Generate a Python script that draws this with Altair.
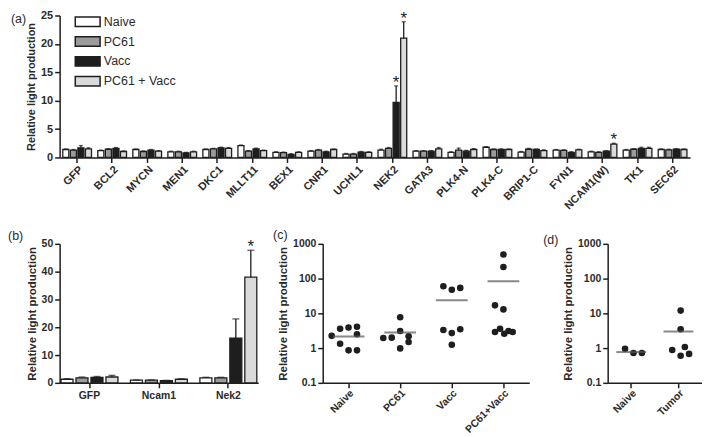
import altair as alt
import pandas as pd

FONT = "Liberation Sans"
INK = "#1e1e1e"
TXT = "#2a2a2a"

groups = ["Naive", "PC61", "Vacc", "PC61 + Vacc"]
group_fill = ["#ffffff", "#9b9b9b", "#1e1e1e", "#dadada"]
panel_labels = ["(a)", "(b)", "(c)", "(d)"]

# ---------------- panel (a) ----------------
genes_a = ["GFP", "BCL2", "MYCN", "MEN1", "DKC1", "MLLT11", "BEX1", "CNR1", "UCHL1",
           "NEK2", "GATA3", "PLK4-N", "PLK4-C", "BRIP1-C", "FYN1", "NCAM1(W)", "TK1", "SEC62"]
naive_a = [1.4, 1.2, 1.4, 1.0, 1.4, 2.1, 0.9, 1.1, 0.6, 1.3, 1.1, 0.9, 1.8, 0.95, 1.3, 1.0, 1.3, 1.4]
pc61_a = [1.3, 1.45, 1.05, 1.0, 1.5, 1.1, 0.85, 1.3, 0.6, 1.6, 1.1, 1.3, 1.4, 1.45, 1.25, 0.9, 1.45, 1.35]
vacc_a = [1.7, 1.6, 1.3, 0.8, 1.7, 1.5, 0.55, 1.0, 0.95, 9.7, 1.1, 1.1, 1.4, 1.4, 0.9, 1.1, 1.6, 1.45]
combo_a = [1.5, 1.05, 1.1, 1.0, 1.6, 1.2, 0.9, 1.4, 0.9, 21.0, 1.5, 1.4, 1.4, 1.2, 1.35, 2.35, 1.6, 1.4]
naive_err_a = [0.1, 0.1, 0.1, 0.1, 0.1, 0.1, 0.1, 0.1, 0.1, 0.15, 0.1, 0.1, 0.1, 0.1, 0.1, 0.1, 0.1, 0.1]
pc61_err_a = [0.1, 0.1, 0.1, 0.1, 0.1, 0.1, 0.1, 0.1, 0.1, 0.15, 0.1, 0.35, 0.1, 0.15, 0.1, 0.1, 0.1, 0.1]
vacc_err_a = [0.4, 0.15, 0.1, 0.1, 0.1, 0.15, 0.1, 0.1, 0.1, 2.9, 0.1, 0.15, 0.1, 0.1, 0.1, 0.1, 0.2, 0.1]
combo_err_a = [0.2, 0.1, 0.1, 0.1, 0.15, 0.1, 0.1, 0.1, 0.1, 2.9, 0.25, 0.15, 0.1, 0.15, 0.1, 0.15, 0.2, 0.1]
stars_a = [("NEK2", "Vacc"), ("NEK2", "PC61 + Vacc"), ("NCAM1(W)", "PC61 + Vacc")]
ticks_a = [0, 5, 10, 15, 20, 25]

# ---------------- panel (b) ----------------
genes_b = ["GFP", "Ncam1", "Nek2"]
naive_b = [1.3, 0.95, 1.8]
pc61_b = [1.8, 0.95, 1.8]
vacc_b = [2.0, 0.8, 16.1]
combo_b = [2.1, 1.3, 38.0]
naive_err_b = [0.2, 0.1, 0.2]
pc61_err_b = [0.3, 0.1, 0.2]
vacc_err_b = [0.3, 0.1, 6.9]
combo_err_b = [0.6, 0.15, 9.7]
stars_b = [("Nek2", "PC61 + Vacc")]
ticks_b = [0, 10, 20, 30, 40, 50]

# ---------------- panel (c) ----------------
cats_c = ["Naive", "PC61", "Vacc", "PC61+Vacc"]
c_group = (["Naive"] * 8 + ["PC61"] * 7 + ["Vacc"] * 7 + ["PC61+Vacc"] * 9)
c_value = [2.25, 3.6, 3.9, 4.1, 2.5, 1.33, 0.86, 0.86,
           7.7, 3.1, 1.95, 2.0, 2.2, 1.5, 0.98,
           60, 48, 54, 3.3, 2.7, 3.5, 1.25,
           496, 215, 17, 13, 2.9, 3.6, 2.6, 3.1, 2.9]
c_jitter = [-2, -1, 0, 1, 1, -1, 0, 1,
            0, 0, -2, -1, 1, 1, 0,
            -1, 0, 1, -1, 0, 1, 0,
            0, 0, -1, 0, -1, -0.4, 0.1, 0.6, 1.1]
c_mean = [2.15, 2.8, 24, 84]

# ---------------- panel (d) ----------------
cats_d = ["Naive", "Tumor"]
d_group = ["Naive"] * 3 + ["Tumor"] * 6
d_value = [0.96, 0.72, 0.72, 12, 3.5, 0.88, 1.07, 0.6, 0.68]
d_jitter = [-1, 0, 1, 0, 0, -1, 0.5, 0, 1]
d_mean = [0.77, 3.0]
log_ticks = [0.1, 1, 10, 100, 1000]


def bar_table(genes, series, errors, stars):
    rows = []
    for i, g in enumerate(genes):
        for grp, vals, errs in zip(groups, series, errors):
            rows.append({"gene": g, "group": grp, "value": vals[i],
                         "top": vals[i] + errs[i],
                         "star": "*" if (g, grp) in stars else ""})
    return pd.DataFrame(rows)


def label_layer(text, dx, dy):
    return alt.Chart(pd.DataFrame({"t": [text]})).mark_text(
        align="left", baseline="middle", font=FONT, fontSize=12.5, color=TXT
    ).encode(x=alt.value(dx), y=alt.value(dy), text="t:N")


def bar_panel(df, genes, w, h, ymax, ticks, pin, pout, xaxis, title_size, lab_size,
              legend, label, lab_xy, cap_size):
    x = alt.X("gene:N", sort=genes, title=None,
              scale=alt.Scale(paddingInner=pin, paddingOuter=pout), axis=xaxis)
    xo = alt.XOffset("group:N", sort=groups,
                     scale=alt.Scale(paddingInner=0.2, paddingOuter=0))
    yaxis = alt.Axis(values=ticks, tickCount=20, labelOverlap=False,
                     title="Relative light production",
                     titleFontSize=title_size, labelFontSize=lab_size, titlePadding=4)
    yscale = alt.Scale(domain=[0, ymax], nice=False)
    base = alt.Chart(df)
    bars = base.mark_bar(stroke=INK, strokeWidth=1.3).encode(
        x=x, xOffset=xo, y=alt.Y("value:Q", scale=yscale, axis=yaxis),
        color=alt.Color("group:N", sort=groups,
                        scale=alt.Scale(domain=groups, range=group_fill),
                        legend=legend))
    rule = base.mark_rule(color=INK, strokeWidth=1.3).encode(
        x=x, xOffset=xo, y=alt.Y("value:Q", scale=yscale, axis=yaxis), y2="top:Q")
    cap = base.mark_tick(color=INK, thickness=1.3, size=cap_size).encode(
        x=x, xOffset=xo, y=alt.Y("top:Q", scale=yscale, axis=yaxis))
    star = base.transform_filter("datum.star == '*'").mark_text(
        font=FONT, fontSize=17, color=INK, baseline="middle", dy=-3
    ).encode(x=x, xOffset=xo, y=alt.Y("top:Q", scale=yscale, axis=yaxis), text="star:N")
    lab = label_layer(label, lab_xy[0], lab_xy[1])
    return alt.layer(bars, rule, cap, star, lab).properties(width=w, height=h)


df_a = bar_table(genes_a, [naive_a, pc61_a, vacc_a, combo_a],
                 [naive_err_a, pc61_err_a, vacc_err_a, combo_err_a], stars_a)
df_b = bar_table(genes_b, [naive_b, pc61_b, vacc_b, combo_b],
                 [naive_err_b, pc61_err_b, vacc_err_b, combo_err_b], stars_b)

legend_a = alt.Legend(orient="none", legendX=22, legendY=0, title=None,
                      symbolType="M-2.5,-0.95H2.5V0.95H-2.5Z", symbolSize=100,
                      symbolStrokeWidth=1.5, symbolStrokeColor=INK,
                      labelFontSize=12.5, labelFont=FONT, labelColor=TXT,
                      labelOffset=10, rowPadding=4)
legend_b = alt.Legend(orient="none", legendX=15, legendY=-1, title=None,
                      symbolType="M-2.2,-0.9H2.2V0.9H-2.2Z", symbolSize=100,
                      symbolStrokeWidth=1.5, symbolStrokeColor=INK,
                      labelFontSize=12.5, labelFont=FONT, labelColor=TXT,
                      labelOffset=9, rowPadding=3)

panel_a = bar_panel(
    df_a, genes_a, 635, 143, 25, ticks_a, 0.18, 0.09,
    alt.Axis(labelAngle=-45, labelAlign="right", labelBaseline="top",
             labelFontSize=11, labelPadding=1),
    11, 11, legend_a, panel_labels[0], (-49, 4), 4)

panel_b = bar_panel(
    df_b, genes_b, 200, 140, 50, ticks_b, 0.18, 0.02,
    alt.Axis(labelAngle=0, labelFontSize=10.5, labelPadding=3),
    11.5, 10.5, legend_b, panel_labels[1], (-52, -8), 7)


def dot_panel(cats, groups_, values, jitter, means, w, h, off_half, tick_w, label, lab_xy):
    dots = pd.DataFrame({"group": groups_, "value": values, "off": jitter})
    mdf = pd.DataFrame({"group": cats, "value": means})
    x = alt.X("group:N", sort=cats, title=None,
              scale=alt.Scale(paddingInner=0, paddingOuter=0),
              axis=alt.Axis(labelAngle=-45, labelAlign="right", labelBaseline="top",
                            labelFontSize=10.5, labelPadding=0))
    yaxis = alt.Axis(values=log_ticks, format="~g", labelOverlap=False,
                     title="Relative light production", titleFontSize=11.5,
                     labelFontSize=10.5, titlePadding=4)
    yscale = alt.Scale(type="log", domain=[0.1, 1000], nice=False)
    pts = alt.Chart(dots).mark_circle(size=44, color=INK, opacity=1).encode(
        x=x, y=alt.Y("value:Q", scale=yscale, axis=yaxis),
        xOffset=alt.XOffset("off:Q", scale=alt.Scale(domain=[-off_half, off_half])))
    mean = alt.Chart(mdf).mark_tick(color="#555555", thickness=2, size=tick_w).encode(
        x=x, y=alt.Y("value:Q", scale=yscale, axis=yaxis))
    lab = label_layer(label, lab_xy[0], lab_xy[1])
    return alt.layer(pts, mean, lab).properties(width=w, height=h)


panel_c = dot_panel(cats_c, c_group, c_value, c_jitter, c_mean, 208, 140, 3.06, 32,
                    panel_labels[2], (-50, -9))
panel_d = dot_panel(cats_d, d_group, d_value, d_jitter, d_mean, 95, 140, 2.8, 30,
                    panel_labels[3], (-65, -4))

bottom = alt.hconcat(panel_b, alt.hconcat(panel_c, panel_d, spacing=14), spacing=15)
chart = alt.vconcat(panel_a, bottom, spacing=18).properties(padding=0).configure_view(
    stroke=None
).configure_axis(
    grid=False, domainColor=INK, domainWidth=1.5, tickColor=INK, tickWidth=1.5, tickSize=5,
    labelFont=FONT, labelFontWeight="bold", labelColor=TXT, labelOverlap=False,
    titleFont=FONT, titleFontWeight="bold", titleColor=TXT
)

chart.save("out.html", embed_options={"renderer": "svg", "actions": False})
